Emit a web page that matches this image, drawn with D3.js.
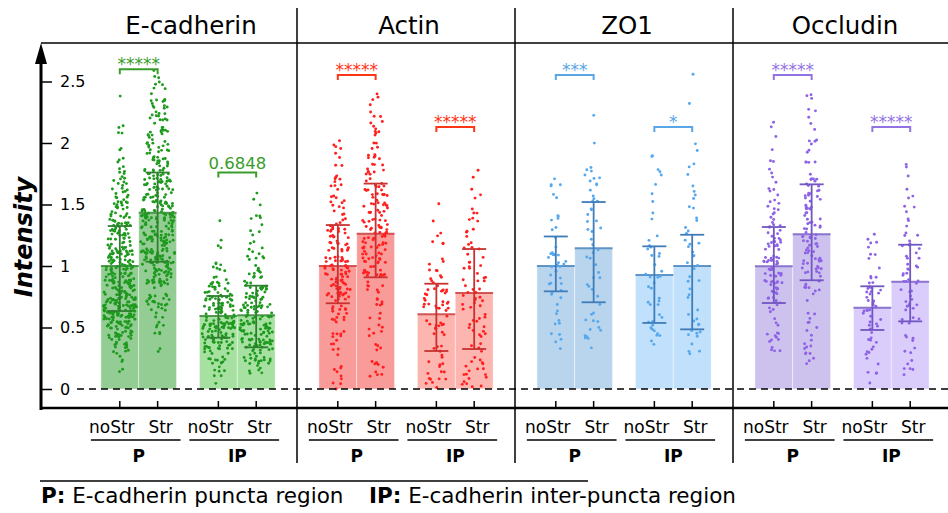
<!DOCTYPE html>
<html>
<head>
<meta charset="utf-8">
<script src="https://cdn.jsdelivr.net/npm/d3@7"></script>
<style>
  body { margin: 0; background: #fff; }
  svg { display: block; font-family: "DejaVu Sans", "Liberation Sans", Arial, sans-serif; }
</style>
</head>
<body>
<script>
// ---- data ----
var proteins = ["E-cadherin", "Actin", "ZO1", "Occludin"];
var regions = ["P", "IP"];
var conditions = ["noStr", "Str"];
var yTicks = [0, 0.5, 1, 1.5, 2, 2.5];

// bar order inside a panel: P noStr, P Str, IP noStr, IP Str
var ecadMean = [1.0, 1.433, 0.593, 0.6];
var ecadLow  = [0.634, 1.035, 0.417, 0.339];
var ecadHigh = [1.325, 1.76, 0.756, 0.84];

var actinMean = [1.0, 1.263, 0.607, 0.78];
var actinLow  = [0.697, 0.908, 0.309, 0.325];
var actinHigh = [1.333, 1.67, 0.856, 1.138];

var zo1Mean = [1.0, 1.144, 0.927, 1.0];
var zo1Low  = [0.794, 0.705, 0.537, 0.485];
var zo1High = [1.24, 1.52, 1.16, 1.254];

var occMean = [0.998, 1.258, 0.661, 0.872];
var occLow  = [0.699, 0.884, 0.48, 0.55];
var occHigh = [1.317, 1.664, 0.835, 1.173];

// number of cells per 0.1 intensity bin (bin 0 = 0-0.1, bin 1 = 0.1-0.2 ...)
var ecadCounts = [
  [0,2,4,12,25,40,45,40,35,30,28,25,22,18,14,12,10,7,4,2,2,2,0,1],
  [0,0,0,2,3,6,10,14,18,22,28,30,30,30,28,26,24,20,16,14,12,10,10,8,6,3],
  [1,6,12,22,30,32,30,22,14,6,3,2,1,1],
  [0,6,18,26,26,24,22,18,14,10,7,5,3,3,3,2]
];
var actinCounts = [
  [4,5,1,5,6,6,9,16,18,18,16,14,12,8,6,6,5,4,3,4,1],
  [0,6,4,4,4,4,4,4,6,14,14,14,14,14,12,12,10,8,7,6,4,4,3,4],
  [7,5,4,4,6,8,10,10,8,5,3,3,2,1,0,1],
  [7,7,5,4,6,6,6,7,6,6,5,5,4,3,3,2,1,2]
];
var zo1Counts = [
  [0,0,0,2,3,3,3,3,4,5,9,3,2,3,2,2,3,1],
  [0,0,0,1,6,4,3,1,3,3,3,3,3,3,3,4,4,5,1,1,0,0,1],
  [0,0,0,2,6,4,3,3,3,5,3,4,2,1,1,2,1,3,2],
  [0,0,1,3,5,4,2,2,3,2,4,4,3,3,2,2,2,1,2,2,0,0,0,1,0,1]
];
var occCounts = [
  [0,0,0,6,6,3,4,10,12,12,14,10,8,7,5,4,4,3,2,1,1,2],
  [0,0,6,5,3,3,2,3,7,10,10,10,10,10,9,8,6,5,4,3,3,2,3,3],
  [1,3,4,5,5,6,8,8,6,4,3,3,2],
  [0,4,3,3,3,5,6,5,6,6,5,5,4,3,3,2,1,1,2]
];

// significance: label and bracket height per region (P, IP)
var sigLabels = [["*****", "0.6848"], ["*****", "*****"], ["***", "*"], ["*****", "*****"]];
var sigLevels = [[2.6, 1.76], [2.553, 2.13], [2.553, 2.13], [2.553, 2.13]];

// ---- styles ----
var dotColors  = ["#1e9a1e", "#ff1f1f", "#55a8ee", "#8e62e6"];
var barColorsP = ["#93cd93", "#f99b99", "#b9d5ee", "#cdc2ee"];
var barColorsIP = ["#a7e1a1", "#fdb5b0", "#c0e0fb", "#dacdfc"];
var errColors  = ["#2e7f2e", "#c7312f", "#3f7cb8", "#7256c2"];
var sigColors  = ["#3a9c2a", "#ff3518", "#5aa6e6", "#9373e2"];
var spread     = [17, 13, 10, 10];

var means = [ecadMean, actinMean, zo1Mean, occMean];
var lows = [ecadLow, actinLow, zo1Low, occLow];
var highs = [ecadHigh, actinHigh, zo1High, occHigh];
var counts = [ecadCounts, actinCounts, zo1Counts, occCounts];

var W = 948, H = 513;
var svg = d3.select("body").append("svg").attr("width", W).attr("height", H);

var y = d3.scaleLinear().domain([0, 2.5]).range([389, 81.5]);
var xPanel = d3.scaleBand().domain(proteins).range([79, 79 + 218 * 4]);
var xRegion = d3.scaleBand().domain(regions).range([0, 218]).paddingInner(0.2323).paddingOuter(0.2222);
var xCond = d3.scaleBand().domain(conditions).range([0, xRegion.bandwidth()]);

// flatten into bars
var bars = [];
proteins.forEach(function(p, pi) {
  regions.forEach(function(r, ri) {
    conditions.forEach(function(c, ci) {
      var k = ri * 2 + ci;
      var x0 = xPanel(p) + xRegion(r) + xCond(c);
      bars.push({
        p: p, pi: pi, r: r, c: c, k: k,
        x: x0, cx: x0 + xCond.bandwidth() / 2,
        mean: means[pi][k], lo: lows[pi][k], hi: highs[pi][k],
        counts: counts[pi][k]
      });
    });
  });
});

// bars
svg.append("g").selectAll("rect")
  .data(bars).enter().append("rect")
  .attr("x", function(d) { return d.x; })
  .attr("width", xCond.bandwidth())
  .attr("y", function(d) { return y(d.mean); })
  .attr("height", function(d) { return y(0) - y(d.mean); })
  .attr("fill", function(d) { return d.r === "P" ? barColorsP[d.pi] : barColorsIP[d.pi]; })
  .attr("stroke", "rgba(255,255,255,0.55)")
  .attr("stroke-width", 0.8);

svg.append("g").selectAll("line")
  .data(bars).enter().append("line")
  .attr("x1", function(d) { return d.x; })
  .attr("x2", function(d) { return d.x + xCond.bandwidth(); })
  .attr("y1", function(d) { return y(d.mean); })
  .attr("y2", function(d) { return y(d.mean); })
  .attr("stroke", function(d) { return errColors[d.pi]; })
  .attr("stroke-opacity", 0.8)
  .attr("stroke-width", 2);

// jitter placement inside a bin (fixed, not data)
function jit(a, b, c) {
  var h = Math.sin(a * 127.1 + b * 311.7 + c * 74.7) * 43758.5453;
  return h - Math.floor(h);
}

// dots: each bin's cells spread across the bin, width grows with bin count
var dots = [];
bars.forEach(function(b, bi) {
  var cmax = d3.max(b.counts);
  b.counts.forEach(function(n, i) {
    var hw = spread[b.pi] * Math.sqrt(n / cmax);
    for (var j = 0; j < n; j++) {
      var u = jit(bi + 1, i + 1, j + 1);
      var v = jit(j + 3, bi + 7, i + 11);
      dots.push({ pi: b.pi, x: b.cx + (u * 2 - 1) * hw, v: i * 0.1 + v * 0.1 });
    }
  });
});

svg.append("g").selectAll("circle")
  .data(dots).enter().append("circle")
  .attr("cx", function(d) { return d.x; })
  .attr("cy", function(d) { return y(d.v); })
  .attr("r", 1.45)
  .attr("fill", function(d) { return dotColors[d.pi]; });

// error bars
var eb = svg.append("g").selectAll("g").data(bars).enter().append("g")
  .attr("stroke", function(d) { return errColors[d.pi]; })
  .attr("stroke-width", 1.8);
eb.append("line")
  .attr("x1", function(d) { return d.cx; }).attr("x2", function(d) { return d.cx; })
  .attr("y1", function(d) { return y(d.lo); }).attr("y2", function(d) { return y(d.hi); });
eb.append("line")
  .attr("x1", function(d) { return d.cx - 12; }).attr("x2", function(d) { return d.cx + 12; })
  .attr("y1", function(d) { return y(d.hi); }).attr("y2", function(d) { return y(d.hi); });
eb.append("line")
  .attr("x1", function(d) { return d.cx - 12; }).attr("x2", function(d) { return d.cx + 12; })
  .attr("y1", function(d) { return y(d.lo); }).attr("y2", function(d) { return y(d.lo); });

// zero line
svg.append("line")
  .attr("x1", 77).attr("x2", W).attr("y1", y(0)).attr("y2", y(0))
  .attr("stroke", "#000").attr("stroke-width", 1.6).attr("stroke-dasharray", "7,5");

// y axis
var yAxis = svg.append("g").attr("transform", "translate(41,0)")
  .call(d3.axisRight(y).tickValues(yTicks).tickSize(11).tickPadding(8).tickFormat(d3.format("")));
yAxis.select(".domain").remove();
yAxis.selectAll("line").attr("stroke-width", 1.5);
yAxis.selectAll("text").attr("font-size", 16).attr("font-family", "DejaVu Sans, sans-serif");

svg.append("line").attr("x1", 41).attr("x2", 41).attr("y1", 410).attr("y2", 60)
  .attr("stroke", "#000").attr("stroke-width", 3);
svg.append("path").attr("d", "M41,43 L35,64 L47,64 Z").attr("fill", "#000");

svg.append("text")
  .attr("transform", "translate(32,237) rotate(-90)")
  .attr("text-anchor", "middle")
  .attr("font-size", 24).attr("font-weight", "bold").attr("font-style", "italic")
  .text("Intensity");

// frame lines
svg.append("line").attr("x1", 41).attr("x2", W).attr("y1", 43).attr("y2", 43)
  .attr("stroke", "#000").attr("stroke-width", 1.5);
svg.append("line").attr("x1", 40).attr("x2", W).attr("y1", 408).attr("y2", 408)
  .attr("stroke", "#000").attr("stroke-width", 2.5);
svg.append("g").selectAll("line").data(proteins.slice(1)).enter().append("line")
  .attr("x1", function(d) { return xPanel(d); }).attr("x2", function(d) { return xPanel(d); })
  .attr("y1", 8).attr("y2", 463)
  .attr("stroke", "#000").attr("stroke-width", 1.5);

// titles
svg.append("g").selectAll("text").data(proteins).enter().append("text")
  .attr("x", function(d) { return xPanel(d) + xPanel.bandwidth() / 2 + 3; })
  .attr("y", 34)
  .attr("text-anchor", "middle").attr("font-size", 24.5)
  .text(function(d) { return d; });

// x ticks and labels
svg.append("g").selectAll("line").data(bars).enter().append("line")
  .attr("x1", function(d) { return d.cx; }).attr("x2", function(d) { return d.cx; })
  .attr("y1", 401).attr("y2", 408)
  .attr("stroke", "#000").attr("stroke-width", 1.5);
svg.append("g").selectAll("text").data(bars).enter().append("text")
  .attr("x", function(d) { return d.cx + (d.c === "noStr" ? -8 : 3); })
  .attr("y", 433)
  .attr("text-anchor", "middle").attr("font-size", 17)
  .text(function(d) { return d.c; });

var groups = [];
proteins.forEach(function(p, pi) {
  regions.forEach(function(r, ri) {
    groups.push({ p: p, pi: pi, r: r, ri: ri, x: xPanel(p) + xRegion(r) });
  });
});
svg.append("g").selectAll("line").data(groups).enter().append("line")
  .attr("x1", function(d) { return d.x - 10; })
  .attr("x2", function(d) { return d.x + xRegion.bandwidth() + 4; })
  .attr("y1", 440).attr("y2", 440)
  .attr("stroke", "#000").attr("stroke-width", 1.5);
svg.append("g").selectAll("text").data(groups).enter().append("text")
  .attr("x", function(d) { return d.x + xRegion.bandwidth() / 2; })
  .attr("y", 462)
  .attr("text-anchor", "middle").attr("font-size", 17).attr("font-weight", "bold")
  .text(function(d) { return d.r; });

// significance brackets
var sig = svg.append("g").selectAll("g").data(groups).enter().append("g");
sig.append("path")
  .attr("d", function(d) {
    var x1 = d.x + xCond.bandwidth() / 2, x2 = d.x + xCond.bandwidth() * 1.5;
    var yb = y(sigLevels[d.pi][d.ri]);
    return "M" + x1 + "," + (yb + 5) + "V" + yb + "H" + x2 + "V" + (yb + 5);
  })
  .attr("fill", "none")
  .attr("stroke", function(d) { return sigColors[d.pi]; })
  .attr("stroke-width", 2);
sig.append("text")
  .attr("x", function(d) { return d.x + xCond.bandwidth(); })
  .attr("y", function(d) {
    var lab = sigLabels[d.pi][d.ri];
    return y(sigLevels[d.pi][d.ri]) + (lab.charAt(0) === "*" ? 1 : -4);
  })
  .attr("text-anchor", "middle")
  .attr("font-size", function(d) { return sigLabels[d.pi][d.ri].charAt(0) === "*" ? 17 : 16.5; })
  .attr("fill", function(d) { return sigColors[d.pi]; })
  .text(function(d) { return sigLabels[d.pi][d.ri]; });

// footer legend
svg.append("line").attr("x1", 40).attr("x2", 588).attr("y1", 481).attr("y2", 481)
  .attr("stroke", "#000").attr("stroke-width", 1.5);
var f1 = svg.append("text").attr("x", 41).attr("y", 503).attr("font-size", 21.5);
f1.append("tspan").attr("font-weight", "bold").text("P:");
f1.append("tspan").text(" E-cadherin puncta region");
var f2 = svg.append("text").attr("x", 369).attr("y", 503).attr("font-size", 21.5);
f2.append("tspan").attr("font-weight", "bold").text("IP:");
f2.append("tspan").text(" E-cadherin inter-puncta region");
</script>
</body>
</html>
